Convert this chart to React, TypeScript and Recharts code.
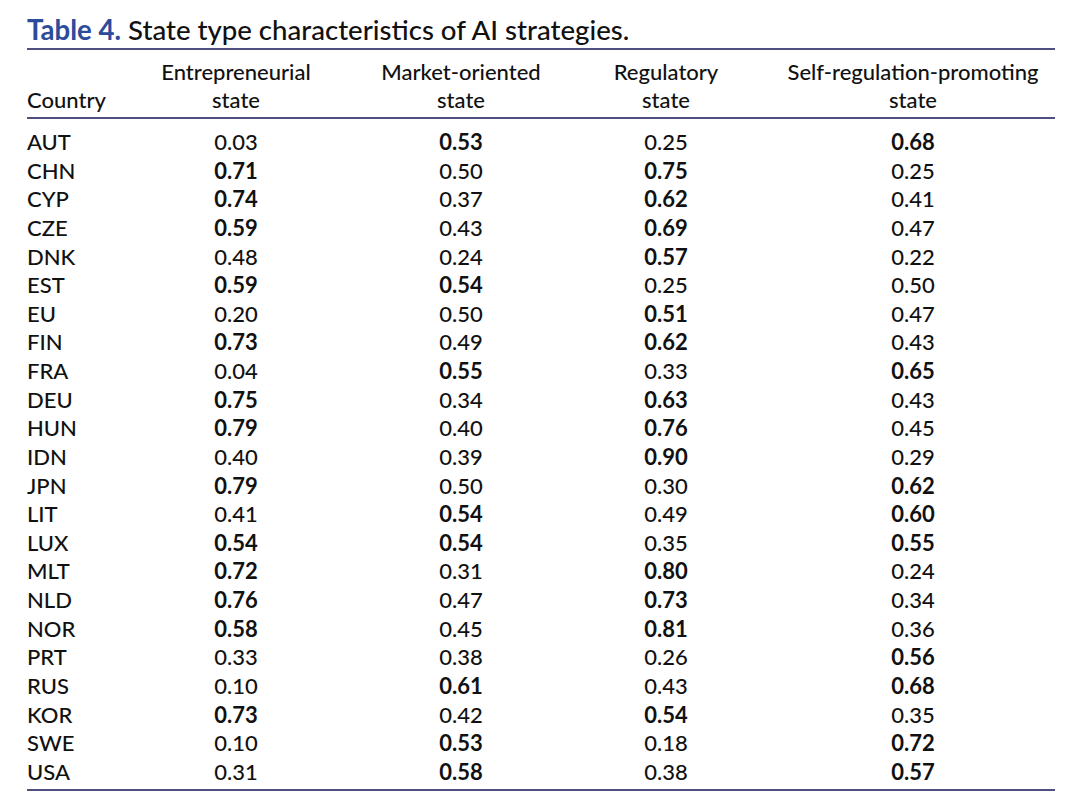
import React from 'react';
import { ScatterChart, Scatter, XAxis, YAxis, ReferenceLine } from 'recharts';

const countries = ['AUT', 'CHN', 'CYP', 'CZE', 'DNK', 'EST', 'EU', 'FIN', 'FRA', 'DEU', 'HUN', 'IDN', 'JPN', 'LIT', 'LUX', 'MLT', 'NLD', 'NOR', 'PRT', 'RUS', 'KOR', 'SWE', 'USA'];
const entrepreneurial = [0.03, 0.71, 0.74, 0.59, 0.48, 0.59, 0.20, 0.73, 0.04, 0.75, 0.79, 0.40, 0.79, 0.41, 0.54, 0.72, 0.76, 0.58, 0.33, 0.10, 0.73, 0.10, 0.31];
const marketOriented = [0.53, 0.50, 0.37, 0.43, 0.24, 0.54, 0.50, 0.49, 0.55, 0.34, 0.40, 0.39, 0.50, 0.54, 0.54, 0.31, 0.47, 0.45, 0.38, 0.61, 0.42, 0.53, 0.58];
const regulatory = [0.25, 0.75, 0.62, 0.69, 0.57, 0.25, 0.51, 0.62, 0.33, 0.63, 0.76, 0.90, 0.30, 0.49, 0.35, 0.80, 0.73, 0.81, 0.26, 0.43, 0.54, 0.18, 0.38];
const selfRegulation = [0.68, 0.25, 0.41, 0.47, 0.22, 0.50, 0.47, 0.43, 0.65, 0.43, 0.45, 0.29, 0.62, 0.60, 0.55, 0.24, 0.34, 0.36, 0.56, 0.68, 0.35, 0.72, 0.57];
const headers = [
  ['Entrepreneurial', 'state'],
  ['Market-oriented', 'state'],
  ['Regulatory', 'state'],
  ['Self-regulation-promoting', 'state'],
];
const columns = [entrepreneurial, marketOriented, regulatory, selfRegulation];

// layout (pixels across the table)
const TABLE_LEFT = 27;
const TABLE_RIGHT = 1055;
const COL_CENTERS = [236, 461, 666, 913];
const FONT = 'Lato, "Open Sans", sans-serif';
const RULE = '#50507e';
const INK = '#111';

const cells = columns.flatMap((col, ci) =>
  col.map((v, ri) => ({ x: COL_CENTERS[ci], y: ri, value: v }))
);

function CellText(props: any) {
  const { cx, cy, payload } = props;
  return (
    <text x={cx} y={cy} dy="0.36em" textAnchor="middle" fontFamily={FONT} fontSize={22}
      fontWeight={payload.value > 0.5 ? 700 : 500} fill={INK}>
      {payload.value.toFixed(2)}
    </text>
  );
}

function CountryTick(props: any) {
  const { y, payload } = props;
  return (
    <text x={TABLE_LEFT} y={y} dy="0.36em" textAnchor="start" fontFamily={FONT} fontSize={22} fontWeight={500} fill={INK}>
      {countries[payload.value]}
    </text>
  );
}

function HeaderTick(props: any) {
  const { x, payload } = props;
  const base = 118;
  const idx = COL_CENTERS.indexOf(payload.value);
  if (idx < 0) {
    return (
      <text x={TABLE_LEFT} y={base - 18} dy="0.36em" textAnchor="start" fontFamily={FONT} fontSize={22} fontWeight={500} fill={INK}>
        Country
      </text>
    );
  }
  const [l1, l2] = headers[idx];
  return (
    <g fontFamily={FONT} fontSize={22} fontWeight={500} fill={INK}>
      <text x={x} y={base - 46} dy="0.36em" textAnchor="middle">{l1}</text>
      <text x={x} y={base - 18} dy="0.36em" textAnchor="middle">{l2}</text>
    </g>
  );
}

export default function App() {
  return (
    <div style={{ position: 'absolute', left: 0, top: 0, width: 1080, height: 796, background: '#fff' }}>
      <div style={{ position: 'absolute', left: TABLE_LEFT, top: 13, fontFamily: FONT, fontSize: 27.6, fontWeight: 500, color: INK, whiteSpace: 'nowrap' }}>
        <span style={{ color: '#2b4b9b', fontWeight: 700 }}>Table 4.</span> State type characteristics of AI strategies.
      </div>
      <ScatterChart width={1080} height={796} margin={{ top: 117, right: 1080 - TABLE_RIGHT, bottom: 5, left: TABLE_LEFT }}>
        <XAxis xAxisId="top" orientation="top" type="number" dataKey="x" domain={[TABLE_LEFT, TABLE_RIGHT]}
          ticks={[TABLE_LEFT, ...COL_CENTERS]} interval={0} height={1} tickLine={false}
          axisLine={{ stroke: RULE, strokeWidth: 2 }} tick={<HeaderTick />} allowDataOverflow />
        <XAxis xAxisId="bottom" orientation="bottom" type="number" dataKey="x" domain={[TABLE_LEFT, TABLE_RIGHT]}
          height={1} tick={false} tickLine={false} axisLine={{ stroke: RULE, strokeWidth: 2 }} />
        <YAxis type="number" dataKey="y" domain={[-0.84, 22.63]} reversed mirror ticks={countries.map((_, i) => i)}
          interval={0} axisLine={false} tickLine={false} tick={<CountryTick />} allowDataOverflow />
        <ReferenceLine xAxisId="top" y={-3.25} stroke={RULE} strokeWidth={2} ifOverflow="visible" />
        <Scatter xAxisId="top" data={cells} shape={<CellText />} isAnimationActive={false} />
        <Scatter xAxisId="bottom" data={[]} isAnimationActive={false} />
      </ScatterChart>
    </div>
  );
}
